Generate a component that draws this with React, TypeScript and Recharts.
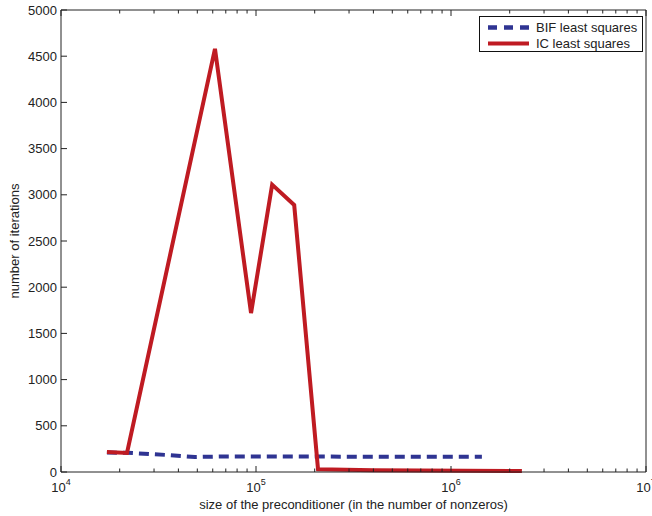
import { Legend, Line, LineChart, XAxis, YAxis, Label } from "recharts";

// size of the preconditioner (nonzeros) vs. number of iterations
const bifSize = [17200, 21800, 35000, 48700, 65000, 120000, 300000, 700000, 1440000];
const bifIters = [210, 208, 184, 162, 168, 168, 166, 165, 165];

const icSize = [17200, 21800, 61600, 94300, 121000, 157000, 208000, 400000, 2310000];
const icIters = [216, 206, 4580, 1720, 3110, 2890, 30, 18, 10];

const xTicks = [
  10000, 20000, 30000, 40000, 50000, 60000, 70000, 80000, 90000,
  100000, 200000, 300000, 400000, 500000, 600000, 700000, 800000, 900000,
  1000000, 2000000, 3000000, 4000000, 5000000, 6000000, 7000000, 8000000, 9000000,
  10000000,
];
const yTicks = [0, 500, 1000, 1500, 2000, 2500, 3000, 3500, 4000, 4500, 5000];

const bifData = bifSize.map((x, i) => ({ x, y: bifIters[i] }));
const icData = icSize.map((x, i) => ({ x, y: icIters[i] }));

const BLUE = "#2f3492";
const RED = "#bf1b22";
const INK = "#222";
const FONT = '"Liberation Sans", Arial, Helvetica, sans-serif';

const isMajor = (v: number) => Math.abs(Math.log10(v) - Math.round(Math.log10(v))) < 1e-9;

function BottomTick(props: any) {
  const { x, y, payload } = props;
  const v = payload.value;
  const major = isMajor(v);
  return (
    <g>
      <line x1={x} x2={x} y1={y} y2={y - (major ? 6 : 3.5)} stroke={INK} />
      {major && (
        <text x={x} y={y + 20} textAnchor="middle" fontSize={13} fill={INK} fontFamily={FONT}>
          10
          <tspan dy={-7} fontSize={9}>
            {Math.round(Math.log10(v))}
          </tspan>
        </text>
      )}
    </g>
  );
}

function TopTick(props: any) {
  const { x, y, payload } = props;
  const major = isMajor(payload.value);
  return <line x1={x} x2={x} y1={y} y2={y + (major ? 6 : 3.5)} stroke={INK} />;
}

function LeftTick(props: any) {
  const { x, y, payload } = props;
  return (
    <g>
      <line x1={x} x2={x + 6} y1={y} y2={y} stroke={INK} />
      <text x={x - 4} y={y} dy="0.35em" textAnchor="end" fontSize={13} fill={INK} fontFamily={FONT}>
        {payload.value}
      </text>
    </g>
  );
}

function RightTick(props: any) {
  const { x, y } = props;
  return <line x1={x} x2={x - 6} y1={y} y2={y} stroke={INK} />;
}

function LegendBox() {
  return (
    <div
      style={{
        width: 162,
        height: 34,
        border: "1px solid #111",
        background: "#fff",
        fontFamily: FONT,
        fontSize: 13,
        color: INK,
        position: "relative",
      }}
    >
      <svg width={162} height={34} style={{ position: "absolute", left: 0, top: 0 }}>
        <line x1={8} x2={49} y1={10.5} y2={10.5} stroke={BLUE} strokeWidth={4.5} strokeDasharray="9 7" />
        <line x1={8} x2={49} y1={26.5} y2={26.5} stroke={RED} strokeWidth={4} />
        <text x={56} y={15} fontSize={13} fill={INK} fontFamily={FONT}>BIF least squares</text>
        <text x={56} y={31} fontSize={13} fill={INK} fontFamily={FONT}>IC least squares</text>
      </svg>
    </div>
  );
}

export default function App() {
  return (
    <div style={{ position: "absolute", left: 0, top: 0, background: "#fff" }}>
      <LineChart width={652} height={516} margin={{ top: 0, right: 0, bottom: 0, left: 0 }}>
        <XAxis
          xAxisId="bottom"
          dataKey="x"
          type="number"
          scale="log"
          domain={[10000, 10000000]}
          allowDataOverflow
          ticks={xTicks}
          interval={0}
          tickSize={0}
          tickMargin={0}
          tickLine={false}
          height={44}
          stroke={INK}
          tick={<BottomTick />}
        >
          <Label
            value="size of the preconditioner (in the number of nonzeros)"
            position="insideBottom"
            offset={7}
            style={{ fontSize: 13, fill: INK, fontFamily: FONT }}
          />
        </XAxis>
        <XAxis
          xAxisId="top"
          orientation="top"
          dataKey="x"
          type="number"
          scale="log"
          domain={[10000, 10000000]}
          allowDataOverflow
          ticks={xTicks}
          interval={0}
          tickSize={0}
          tickMargin={0}
          tickLine={false}
          height={10}
          stroke={INK}
          tick={<TopTick />}
        />
        <YAxis
          yAxisId="left"
          type="number"
          domain={[0, 5000]}
          ticks={yTicks}
          interval={0}
          tickSize={0}
          tickMargin={0}
          tickLine={false}
          width={61}
          stroke={INK}
          tick={<LeftTick />}
        >
          <Label
            value="number of iterations"
            angle={-90}
            position="insideLeft"
            offset={14}
            style={{ fontSize: 13, fill: INK, fontFamily: FONT, textAnchor: "middle" }}
          />
        </YAxis>
        <YAxis
          yAxisId="right"
          orientation="right"
          type="number"
          domain={[0, 5000]}
          ticks={yTicks}
          interval={0}
          tickSize={0}
          tickMargin={0}
          tickLine={false}
          width={6}
          stroke={INK}
          tick={<RightTick />}
        />
        <Legend
          layout="vertical"
          verticalAlign="middle"
          align="center"
          wrapperStyle={{ position: "absolute", left: 479, top: 16, width: 164 }}
          content={() => <LegendBox />}
        />
        <Line
          xAxisId="bottom"
          yAxisId="left"
          data={bifData}
          dataKey="y"
          type="linear"
          stroke={BLUE}
          strokeWidth={4}
          strokeDasharray="10 6"
          dot={false}
          activeDot={false}
          isAnimationActive={false}
        />
        <Line
          xAxisId="bottom"
          yAxisId="left"
          data={icData}
          dataKey="y"
          type="linear"
          stroke={RED}
          strokeWidth={4}
          dot={false}
          activeDot={false}
          isAnimationActive={false}
        />
      </LineChart>
    </div>
  );
}
